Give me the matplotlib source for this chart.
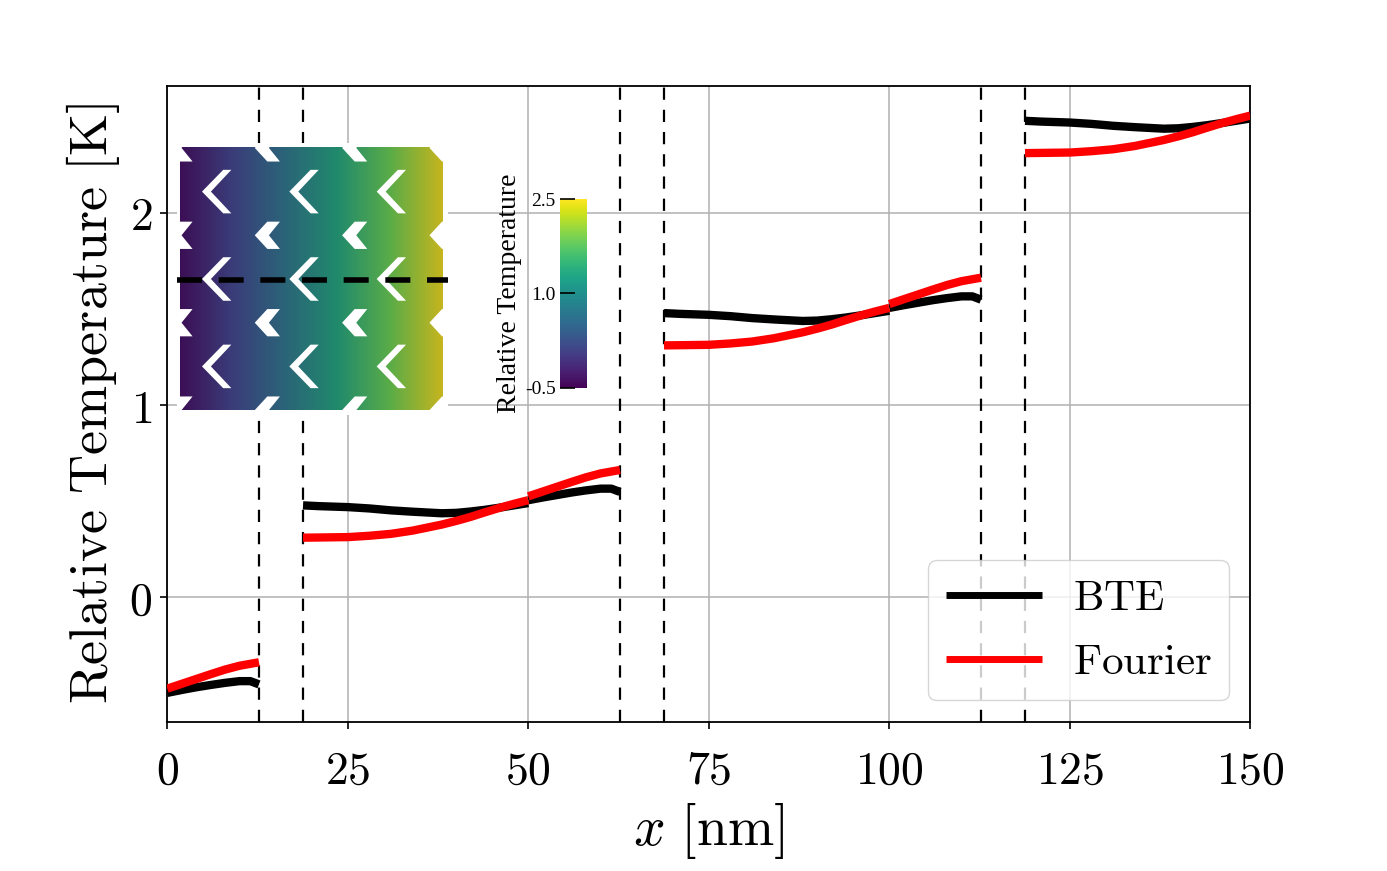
import numpy as np
import matplotlib
matplotlib.use("Agg")
import matplotlib.pyplot as plt
from matplotlib.colors import LinearSegmentedColormap
from matplotlib.patches import Polygon
from matplotlib.ticker import FuncFormatter
import matplotlib.cm as cm
import matplotlib.colors as mcolors

plt.rcParams['mathtext.fontset'] = 'cm'

# pore edges (dashed lines), nm
pore_edges = [12.75, 18.8, 62.7, 68.8, 112.7, 118.8]

# curve pieces: x [nm], BTE, Fourier
x_p1 = [0.0, 2.0, 4.0, 6.0, 8.0, 10.0, 11.5, 12.7]
bte_p1 = [-0.497, -0.482, -0.468, -0.456, -0.445, -0.436, -0.436, -0.453]
fou_p1 = [-0.475, -0.450, -0.425, -0.400, -0.376, -0.356, -0.346, -0.338]

x_p2 = [18.8, 21.0, 25.0, 28.0, 31.0, 34.0, 38.0, 40.0, 42.0, 44.0, 46.0, 48.0, 50.0]
bte_p2 = [0.478, 0.474, 0.469, 0.462, 0.452, 0.445, 0.437, 0.439, 0.446, 0.455, 0.466, 0.478, 0.490]
fou_p2 = [0.310, 0.311, 0.313, 0.320, 0.330, 0.347, 0.378, 0.397, 0.418, 0.442, 0.465, 0.486, 0.505]

x_p3 = [50.0, 52.0, 54.0, 56.0, 58.0, 60.0, 61.5, 62.7]
bte_p3 = [0.505, 0.519, 0.532, 0.545, 0.556, 0.565, 0.565, 0.548]
fou_p3 = [0.525, 0.550, 0.575, 0.600, 0.624, 0.644, 0.654, 0.662]

x_p4 = [68.8, 71.0, 75.0, 78.0, 81.0, 84.0, 88.0, 90.0, 92.0, 94.0, 96.0, 98.0, 100.0]
bte_p4 = [1.478, 1.474, 1.469, 1.462, 1.452, 1.445, 1.437, 1.439, 1.446, 1.455, 1.466, 1.478, 1.490]
fou_p4 = [1.310, 1.311, 1.313, 1.320, 1.330, 1.347, 1.378, 1.397, 1.418, 1.442, 1.465, 1.486, 1.505]

x_p5 = [100.0, 102.0, 104.0, 106.0, 108.0, 110.0, 111.5, 112.7]
bte_p5 = [1.505, 1.519, 1.532, 1.545, 1.556, 1.565, 1.565, 1.548]
fou_p5 = [1.525, 1.550, 1.575, 1.600, 1.624, 1.644, 1.654, 1.662]

x_p6 = [118.8, 121.0, 125.0, 128.0, 131.0, 134.0, 138.0, 140.0, 142.0, 144.0, 146.0, 148.0, 150.0]
bte_p6 = [2.478, 2.474, 2.469, 2.462, 2.452, 2.445, 2.437, 2.439, 2.446, 2.455, 2.466, 2.478, 2.490]
fou_p6 = [2.310, 2.311, 2.313, 2.320, 2.330, 2.347, 2.378, 2.397, 2.418, 2.442, 2.465, 2.486, 2.505]

pieces_x = [x_p1, x_p2, x_p3, x_p4, x_p5, x_p6]
pieces_bte = [bte_p1, bte_p2, bte_p3, bte_p4, bte_p5, bte_p6]
pieces_fou = [fou_p1, fou_p2, fou_p3, fou_p4, fou_p5, fou_p6]

x_ticks = [0, 25, 50, 75, 100, 125, 150]
y_ticks = [0, 1, 2]
cbar_ticks = [-0.5, 1.0, 2.5]
cbar_labels = ['-0.5', '1.0', '2.5']

W, H = 1387, 871
fig = plt.figure(figsize=(W / 100, H / 100), dpi=100)

def px_box(x0, y0, x1, y1):
    # pixel box (top-left origin) -> figure fraction rect
    return [x0 / W, 1 - y1 / H, (x1 - x0) / W, (y1 - y0) / H]

ax = fig.add_axes(px_box(167.3, 86, 1250.3, 721.7))

for xe in pore_edges:
    ax.axvline(xe, color='k', lw=1.6, ls=(0, (5.5, 4.5)), zorder=3)

for i in range(len(pieces_x)):
    ax.plot(pieces_x[i], pieces_bte[i], color='k', lw=6, zorder=4,
            label=r'$\mathrm{BTE}$' if i == 0 else None, solid_capstyle='butt')
for i in range(len(pieces_x)):
    ax.plot(pieces_x[i], pieces_fou[i], color='red', lw=6, zorder=4,
            label=r'$\mathrm{Fourier}$' if i == 0 else None, solid_capstyle='butt')

ax.set_xlim(0, 150)
ax.set_ylim(-0.647, 2.659)
ax.set_xticks(x_ticks)
ax.set_yticks(y_ticks)
fmt = FuncFormatter(lambda v, p: r'$%g$' % v)
ax.xaxis.set_major_formatter(fmt)
ax.yaxis.set_major_formatter(fmt)
ax.tick_params(labelsize=33, length=5, width=1.2)
ax.tick_params(axis='x', pad=14.5)
ax.tick_params(axis='y', pad=6)
for s in ax.spines.values():
    s.set_linewidth(1.3)
ax.grid(True, color='#b0b0b0', lw=1.1)
ax.set_axisbelow(True)
ax.set_xlabel(r'$x\ \mathrm{[nm]}$', fontsize=40, labelpad=5)
ax.set_ylabel(r'$\mathrm{Relative\ Temperature\ [K]}$', fontsize=39, labelpad=5)

leg = ax.legend(loc='lower right', fontsize=31, handlelength=2.25, handletextpad=0.7)
for h in leg.get_lines():
    h.set_linewidth(5)

# inset: temperature map of the porous cell
iax = fig.add_axes(px_box(177, 143, 448, 415))
iax.set_xlim(0, 1)
iax.set_ylim(0, 1)
iax.set_axis_off()
iax.add_patch(plt.Rectangle((0, 0), 1, 1, color='white', zorder=0))
ix0, ix1, iy0, iy1 = 0.011, 0.978, 0.018, 0.982

inset_cmap = LinearSegmentedColormap.from_list(
    'cellmap', ['#3c0f55', '#3a3d7a', '#2b6478', '#208a6c', '#5aac48', '#c6b51e'])
grad = np.linspace(0, 1, 256).reshape(1, -1)
iax.imshow(grad, cmap=inset_cmap, extent=(ix0, ix1, iy0, iy1), aspect='auto',
           interpolation='bilinear', zorder=1)

def to_inset(pts):
    return [(ix0 + u * (ix1 - ix0), iy1 - v * (iy1 - iy0)) for u, v in pts]

def small_chevron(cx, cy):
    return [(cx - 0.048, cy), (cx, cy - 0.052), (cx + 0.048, cy - 0.052),
            (cx + 0.006, cy), (cx + 0.048, cy + 0.052), (cx, cy + 0.052)]

def large_chevron(cx, cy):
    return [(cx - 0.056, cy), (cx + 0.025, cy - 0.083), (cx + 0.056, cy - 0.083),
            (cx - 0.022, cy), (cx + 0.056, cy + 0.083), (cx + 0.025, cy + 0.083)]

for k in range(4):
    for j in range(4):
        iax.add_patch(Polygon(to_inset(small_chevron(k / 3, j / 3)), closed=True,
                              color='white', lw=0, zorder=2))
for k in range(3):
    for j in range(3):
        iax.add_patch(Polygon(to_inset(large_chevron(k / 3 + 0.14, j / 3 + 1 / 6)),
                              closed=True, color='white', lw=0, zorder=2))

iax.plot([0, 1], [0.497, 0.497], color='k', lw=4, ls=(0, (4.5, 3.0)), zorder=3,
         solid_capstyle='butt', dash_capstyle='butt')

# colorbar
cax = fig.add_axes(px_box(560, 199, 587, 388))
sm = cm.ScalarMappable(norm=mcolors.Normalize(-0.5, 2.5), cmap='viridis')
cb = fig.colorbar(sm, cax=cax, ticks=cbar_ticks)
cb.outline.set_visible(False)
cax.yaxis.set_ticks_position('left')
cax.yaxis.set_label_position('left')
cax.set_yticklabels(cbar_labels, family='Liberation Serif', fontsize=14)
cax.tick_params(direction='in', length=11, width=1.2, pad=3)
cb.set_label('Relative Temperature', family='Liberation Serif', fontsize=20, labelpad=2)

fig.savefig('out.png', dpi=100)
